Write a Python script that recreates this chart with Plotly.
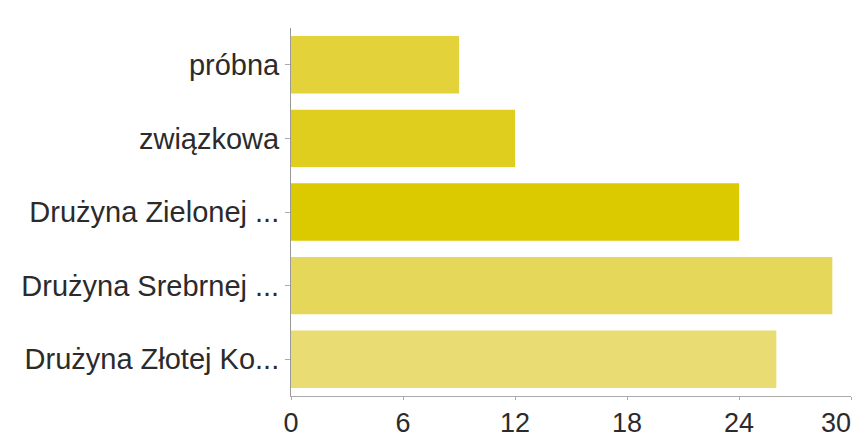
import plotly.graph_objects as go

categories = ["próbna", "związkowa", "Drużyna Zielonej ...", "Drużyna Srebrnej ...", "Drużyna Złotej Ko..."]
values = [9, 12, 24, 29, 26]
colors = ["#E3D23A", "#E0CE1E", "#DCCA00", "#E5D75A", "#E8DC72"]
x_ticks = [0, 6, 12, 18, 24, 30]
x_ticktext = ["0", "6", "12", "18", "24", "30\u00a0\u00a0\u00a0\u00a0"]

fig = go.Figure(go.Bar(
    x=values, y=categories, orientation="h",
    marker=dict(color=colors, line=dict(width=0)),
))

font = dict(family="Liberation Sans, Arial, sans-serif", size=29, color="#2b2b2b")
xfont = dict(family="Liberation Sans, Arial, sans-serif", size=27, color="#2b2b2b")

fig.update_layout(
    width=852, height=432,
    margin=dict(l=283, r=9, t=20, b=44, autoexpand=False),
    paper_bgcolor="white", plot_bgcolor="white",
    bargap=0.22,
    showlegend=False,
    font=font,
)
fig.update_xaxes(
    range=[0, 30], tickvals=x_ticks, ticktext=x_ticktext,
    ticklabeloverflow="allow", automargin=False,
    showgrid=False, zeroline=False,
    showline=True, linecolor="#aaaaaa", linewidth=1,
    ticks="outside", ticklen=3, tickcolor="#aaaaaa",
    tickfont=xfont, fixedrange=True,
)
fig.update_yaxes(
    autorange="reversed", automargin=False, showgrid=False, zeroline=False,
    showline=True, linecolor="#999999", linewidth=1,
    ticks="outside", ticklen=5, tickcolor="#aaaaaa",
    tickfont=font, fixedrange=True,
)

fig.write_html("out.html")
